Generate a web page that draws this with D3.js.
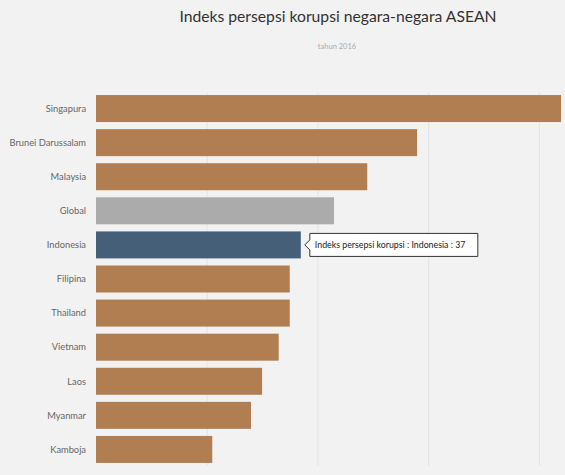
<!DOCTYPE html>
<html>
<head>
	<meta charset="UTF-8">
	<title>index</title>
	<script src="https://cdn.jsdelivr.net/npm/d3@7"></script>
	<style>
		body { margin: 0; background: #f2f2f2; }
		svg { display: block; font-family: Lato, "Open Sans", sans-serif; }
		.grid line { stroke: #e4e4e4; stroke-width: 1; }
		.grid path { display: none; }
		.lbl text { fill: #666; font-size: 9.3px; }
	</style>
</head>
<body>
<script>
	var countries = ["Singapura", "Brunei Darussalam", "Malaysia", "Global", "Indonesia", "Filipina", "Thailand", "Vietnam", "Laos", "Myanmar", "Kamboja"];
	var scores = [84, 58, 49, 43, 37, 35, 35, 33, 30, 28, 21];
	var gridTicks = [20, 40, 60, 80];

	var width = 565, height = 475;
	var svg = d3.select("body").append("svg").attr("width", width).attr("height", height);

	svg.append("rect").attr("width", width).attr("height", height).attr("fill", "#f2f2f2");

	var x = d3.scaleLinear().domain([0, 84]).range([96, 561]);
	var y = d3.scaleBand().domain(countries).range([91.5, 466.5]).paddingInner(0.208).paddingOuter(0.104);

	// gridlines
	svg.append("g").attr("class", "grid")
		.attr("transform", "translate(0," + 466 + ")")
		.call(d3.axisBottom(x).tickValues(gridTicks).tickSize(-(466 - 92)).tickFormat(""));

	function colorOf(c) {
		if (c == "Global") return "#ababab";
		if (c == "Indonesia") return "#465f79";
		return "#b17e52";
	}

	svg.selectAll(".bar").data(countries).enter().append("rect")
		.attr("class", "bar")
		.attr("x", x(0))
		.attr("y", function(d) { return y(d); })
		.attr("width", function(d, i) { return x(scores[i]) - x(0); })
		.attr("height", y.bandwidth())
		.attr("fill", function(d) { return colorOf(d); });

	var lbl = svg.append("g").attr("class", "lbl");
	lbl.selectAll("text").data(countries).enter().append("text")
		.attr("x", 86)
		.attr("y", function(d) { return y(d) + y.bandwidth() / 2; })
		.attr("dy", "0.35em")
		.attr("text-anchor", "end")
		.text(function(d) { return d; });

	// title
	svg.append("text").attr("x", 338).attr("y", 22).attr("text-anchor", "middle")
		.attr("fill", "#333").attr("font-size", "15.7px").text("Indeks persepsi korupsi negara-negara ASEAN");
	svg.append("text").attr("x", 337).attr("y", 49).attr("text-anchor", "middle")
		.attr("fill", "#aaa").attr("font-size", "7.5px").text("tahun 2016");

	// tooltip on Indonesia
	var ti = countries.indexOf("Indonesia");
	var tx = x(scores[ti]) + 4, ty = y("Indonesia") + y.bandwidth() / 2;
	var tw = 173, th = 23;
	var tip = svg.append("g").attr("transform", "translate(" + tx + "," + ty + ")");
	tip.append("path")
		.attr("d", "M0,0 L5,-5 L5,-" + (th / 2) + " L" + tw + ",-" + (th / 2) + " L" + tw + "," + (th / 2) + " L5," + (th / 2) + " L5,5 Z")
		.attr("fill", "#fff").attr("stroke", "#333").attr("stroke-width", 1).attr("stroke-linejoin", "round");
	tip.append("text").attr("x", 10).attr("y", 0).attr("dy", "0.35em")
		.attr("fill", "#222").attr("font-size", "8.8px")
		.text("Indeks persepsi korupsi : " + countries[ti] + " : " + scores[ti]);
</script>
</body>
</html>
